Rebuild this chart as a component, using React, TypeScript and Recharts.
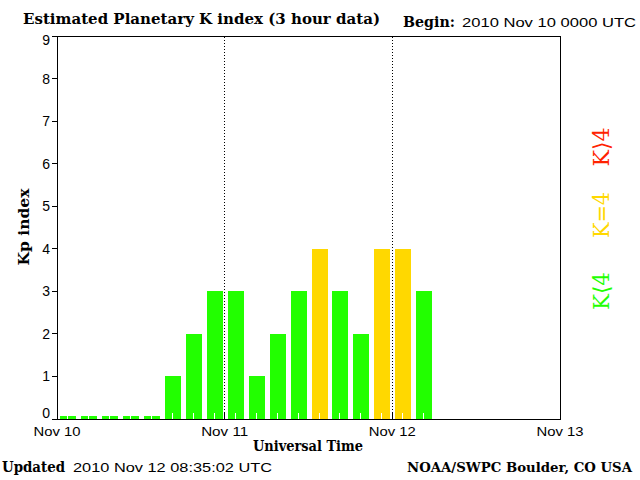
import { BarChart, Bar, XAxis, YAxis, ReferenceLine, ReferenceArea } from "recharts";

// Kp per 3-hour slot, starting 2010 Nov 10 00 UTC
const KP_VALUES = [0, 0, 0, 0, 0, 1, 2, 3, 3, 1, 2, 3, 4, 3, 2, 4, 4, 3];
const DAY_TICKS = [0, 8, 16, 24];
const DAY_LABELS = ["Nov 10", "Nov 11", "Nov 12", "Nov 13"];
const DAY_LINES = [8, 16];
const KP_TICKS = [0, 1, 2, 3, 4, 5, 6, 7, 8, 9];

const GREEN = "#22ff00";
const YELLOW = "#ffd800";
const RED = "#ff2200";

const SERIF = "'DejaVu Serif', 'Liberation Serif', serif";
const SANS = "'Liberation Sans', Arial, sans-serif";

const data = KP_VALUES.map((kp, i) => ({ slot: i + 0.5, kp }));

function kpColor(kp: number) {
  if (kp < 4) return GREEN;
  if (kp === 4) return YELLOW;
  return RED;
}

function KpBar(props: any) {
  const { width, payload } = props;
  const x = props.x + 1;
  const h = Math.abs(props.height);
  const y = props.height < 0 ? props.y + props.height : props.y;
  const cx = Math.round(x + width / 2) - 0.5;
  return (
    <g>
      <rect x={x} y={y} width={width} height={h} fill={kpColor(payload.kp)} />
      <line x1={cx} x2={cx} y1={y + h - 6} y2={y + h} stroke="#fff" />
    </g>
  );
}

function DayTick(props: any) {
  const { x, y, payload } = props;
  const label = DAY_LABELS[DAY_TICKS.indexOf(payload.value)];
  return (
    <g>
      <line x1={x} x2={x} y1={y - 7} y2={y} stroke="#000" />
      <text
        x={x}
        y={y + 17}
        textAnchor="middle"
        fontFamily={SANS}
        fontSize={13}
        textLength={47}
        lengthAdjust="spacingAndGlyphs"
        fill="#000"
      >
        {label}
      </text>
    </g>
  );
}

function KpTick(props: any) {
  const { x, y, payload } = props;
  const dy = payload.value === 0 ? -6 : payload.value === 9 ? 4 : 0;
  return (
    <text x={x} y={y + dy} dy="0.36em" textAnchor="end" fontFamily={SANS} fontSize={14} fill="#000">
      {payload.value}
    </text>
  );
}

function Overlay() {
  const txt = { fill: "#000" };
  return (
    <svg
      width={640}
      height={480}
      style={{ position: "absolute", left: 0, top: 0, pointerEvents: "none" }}
    >
      <text x={23} y={24} fontFamily={SERIF} fontWeight="bold" fontSize={14} textLength={357} lengthAdjust="spacingAndGlyphs" {...txt}>
        Estimated Planetary K index (3 hour data)
      </text>
      <text x={403} y={27} fontFamily={SERIF} fontWeight="bold" fontSize={14} textLength={52} lengthAdjust="spacingAndGlyphs" {...txt}>
        Begin:
      </text>
      <text x={462} y={27} fontFamily={SANS} fontSize={13} textLength={174} lengthAdjust="spacingAndGlyphs" {...txt}>
        2010 Nov 10 0000 UTC
      </text>
      <text transform="translate(29,227) rotate(-90)" textAnchor="middle" fontFamily={SERIF} fontWeight="bold" fontSize={14} textLength={77} lengthAdjust="spacingAndGlyphs" {...txt}>
        Kp index
      </text>
      <text x={308} y={451} textAnchor="middle" fontFamily={SERIF} fontWeight="bold" fontSize={14} textLength={110} lengthAdjust="spacingAndGlyphs" {...txt}>
        Universal Time
      </text>
      <text x={2} y={472} fontFamily={SERIF} fontWeight="bold" fontSize={14} textLength={63} lengthAdjust="spacingAndGlyphs" {...txt}>
        Updated
      </text>
      <text x={73} y={472} fontFamily={SANS} fontSize={13} textLength={199} lengthAdjust="spacingAndGlyphs" {...txt}>
        2010 Nov 12 08:35:02 UTC
      </text>
      <text x={407} y={472} fontFamily={SERIF} fontWeight="bold" fontSize={12.5} textLength={225} lengthAdjust="spacingAndGlyphs" {...txt}>
        NOAA/SWPC Boulder, CO USA
      </text>
      <text transform="translate(609,147) rotate(-90)" textAnchor="middle" fontFamily={SERIF} fontSize={22} textLength={39} lengthAdjust="spacingAndGlyphs" fill={RED}>
        K⟩4
      </text>
      <text transform="translate(609,215) rotate(-90)" textAnchor="middle" fontFamily={SERIF} fontSize={22} textLength={46} lengthAdjust="spacingAndGlyphs" fill={YELLOW}>
        K=4
      </text>
      <text transform="translate(609,291) rotate(-90)" textAnchor="middle" fontFamily={SERIF} fontSize={22} textLength={38} lengthAdjust="spacingAndGlyphs" fill={GREEN}>
        K⟨4
      </text>
    </svg>
  );
}

export default function App() {
  return (
    <div style={{ position: "absolute", left: 0, top: 0, width: 640, height: 480, background: "#fff" }}>
      <style>{".recharts-surface line, .recharts-surface rect, .recharts-surface path { shape-rendering: crispEdges; }"}</style>
      <BarChart width={640} height={480} data={data} margin={{ top: 36, right: 80, bottom: 0, left: 0 }}>
        <ReferenceArea x1={0} x2={24} y1={0} y2={9} fill="none" stroke="#000" strokeWidth={1} ifOverflow="visible" />
        <XAxis
          type="number"
          dataKey="slot"
          domain={[0, 24]}
          ticks={DAY_TICKS}
          allowDataOverflow
          height={61}
          axisLine={{ stroke: "#000" }}
          tickLine={false}
          tickSize={0}
          tickMargin={0}
          tick={<DayTick />}
          interval={0}
        />
        <YAxis
          type="number"
          domain={[0, 9]}
          ticks={KP_TICKS}
          width={57}
          axisLine={{ stroke: "#000" }}
          tickLine={{ stroke: "#000" }}
          tickSize={5}
          tickMargin={2}
          tick={<KpTick />}
          interval={0}
        />
        {DAY_LINES.map((d) => (
          <ReferenceLine key={d} x={d} stroke="#000" strokeDasharray="1 2" />
        ))}
        <Bar dataKey="kp" barSize={16} minPointSize={3} shape={<KpBar />} isAnimationActive={false} />
      </BarChart>
      <Overlay />
    </div>
  );
}
